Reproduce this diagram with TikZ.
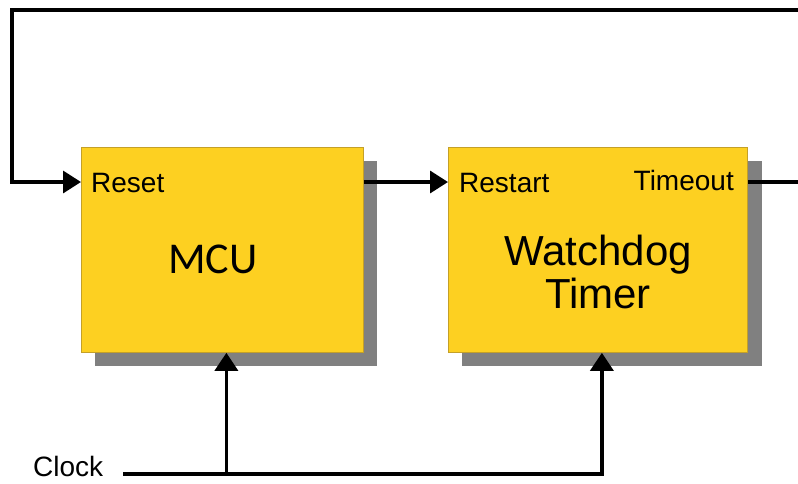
\documentclass[tikz,border=0pt]{standalone}
\usepackage{fontspec}
\setmainfont{Liberation Sans}
\newfontfamily\mcufont{Carlito}
\usetikzlibrary{arrows.meta}
\definecolor{boxyellow}{RGB}{253,208,33}
\definecolor{boxedge}{RGB}{196,160,40}
\definecolor{shadowgray}{RGB}{128,128,128}

\begin{document}
\begin{tikzpicture}[x=1pt,y=-1pt,
  block/.style={fill=boxyellow,draw=boxedge,line width=0.8pt,
    minimum width=282pt,minimum height=205pt,inner sep=0pt,anchor=north west},
  shade/.style={fill=shadowgray},
  wire/.style={line width=3.4pt,line join=miter},
  sig/.style={wire,-{Triangle[length=18pt,width=22pt]}},
  upsig/.style={wire,-{Triangle[length=18pt,width=23pt]}},
  lbl/.style={font=\fontsize{28}{30}\selectfont,inner sep=0pt},
  big/.style={font=\fontsize{42}{43}\selectfont,inner sep=0pt}]

\useasboundingbox (0,0) rectangle (798,483);

% drop shadows
\fill[shade] (95,161) rectangle (377,366);
\fill[shade] (462,161) rectangle (762,366);

% blocks
\node[block] (mcu) at (81,147) {};
\node[block,minimum width=299pt] (wdt) at (448,147) {};

% labels
\node[lbl,anchor=base west] (reset) at (91,192) {Reset};
\node[lbl,anchor=base west] (restart) at (459,192) {Restart};
\node[lbl,anchor=base east] (timeout) at (734,190) {Timeout};
\node[inner sep=0pt,anchor=base,font=\mcufont\fontsize{44}{44}\selectfont] (mcutext) at (213,273) {MCU};
\node[big,anchor=base] (wdtA) at (598,265) {Watchdog};
\node[big,anchor=base] (wdtB) at (598,308) {Timer};
\node[lbl,anchor=base west] (clock) at (33,476) {Clock};

% feedback loop into Reset
\coordinate (fbR) at (802,10);
\coordinate (fbL) at (12,10);
\coordinate (resetPin) at ([yshift=-35pt]mcu.north west);
\draw[sig] (fbR) -- (fbL) |- (resetPin);

% MCU -> Restart
\coordinate (mcuOut) at ([yshift=-35pt]mcu.north east);
\coordinate (restartPin) at ([yshift=-35pt]wdt.north west);
\draw[sig] (mcuOut) -- (restartPin);

% Timeout output
\coordinate (timeoutPin) at ([yshift=-35pt]wdt.north east);
\coordinate (toEnd) at (802,182);
\draw[wire] (timeoutPin) -- (toEnd);

% clock distribution
\coordinate (clkStart) at (123,474);
\coordinate (mcuClk) at ([xshift=4pt]mcu.south);
\coordinate (wdtClk) at ([xshift=4pt]wdt.south);
\coordinate (tap) at (mcuClk |- clkStart);
\draw[upsig] (clkStart) -| (wdtClk);
\draw[upsig] (tap) -- (mcuClk);
\end{tikzpicture}
\end{document}
